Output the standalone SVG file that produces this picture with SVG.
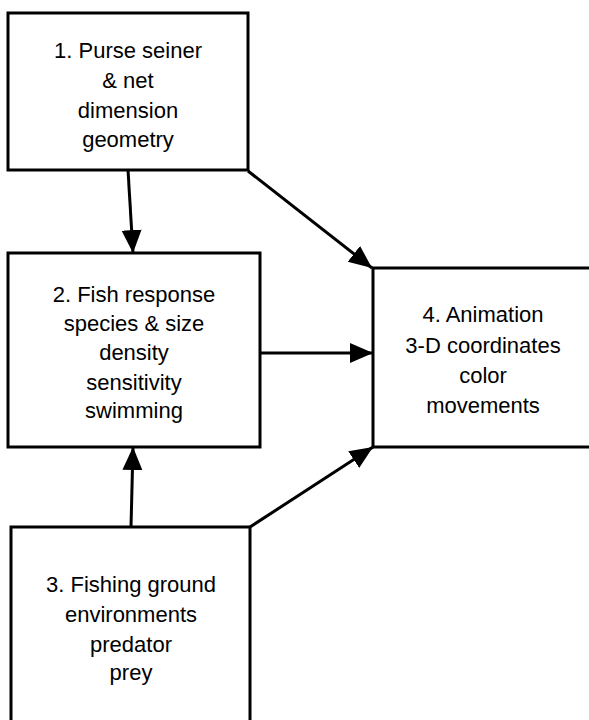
<svg xmlns="http://www.w3.org/2000/svg" width="589" height="720" viewBox="0 0 589 720">
<style>
.box{fill:#fff;stroke:#000;stroke-width:3}
.t{font-family:"Liberation Sans",Arial,sans-serif;font-size:22px;fill:#000;text-anchor:middle}
.c{stroke:#000;stroke-width:3;fill:none;marker-end:url(#ah)}
</style>
<defs>
<marker id="ah" markerUnits="userSpaceOnUse" markerWidth="24" markerHeight="22" refX="23" refY="10" orient="auto">
<path d="M0,0 L23,10 L0,20 Z" fill="#000"/>
</marker>
</defs>
<rect width="589" height="720" fill="#fff"/>
<g id="connectors">
<line class="c" x1="128" y1="170" x2="133" y2="253"/>
<line class="c" x1="248" y1="171" x2="372" y2="268"/>
<line class="c" x1="260" y1="353" x2="373" y2="353"/>
<line class="c" x1="131" y1="527" x2="133" y2="447"/>
<line class="c" x1="250" y1="527" x2="373" y2="447"/>
</g>
<g id="node1">
<rect class="box" x="8" y="13" width="240" height="157"/>
<text class="t" x="128" y="58">1. Purse seiner</text>
<text class="t" x="128" y="88">&amp; net</text>
<text class="t" x="128" y="118">dimension</text>
<text class="t" x="128" y="147">geometry</text>
</g>
<g id="node2">
<rect class="box" x="8" y="253" width="252" height="194"/>
<text class="t" x="134" y="302">2. Fish response</text>
<text class="t" x="134" y="331">species &amp; size</text>
<text class="t" x="134" y="360">density</text>
<text class="t" x="134" y="390">sensitivity</text>
<text class="t" x="134" y="418">swimming</text>
</g>
<g id="node3">
<rect class="box" x="11" y="527" width="239" height="210"/>
<text class="t" x="131" y="592">3. Fishing ground</text>
<text class="t" x="131" y="622">environments</text>
<text class="t" x="131" y="652">predator</text>
<text class="t" x="131" y="680">prey</text>
</g>
<g id="node4">
<rect class="box" x="373" y="268" width="240" height="179"/>
<text class="t" x="483" y="322">4. Animation</text>
<text class="t" x="483" y="353">3-D coordinates</text>
<text class="t" x="483" y="383">color</text>
<text class="t" x="483" y="413">movements</text>
</g>
</svg>
